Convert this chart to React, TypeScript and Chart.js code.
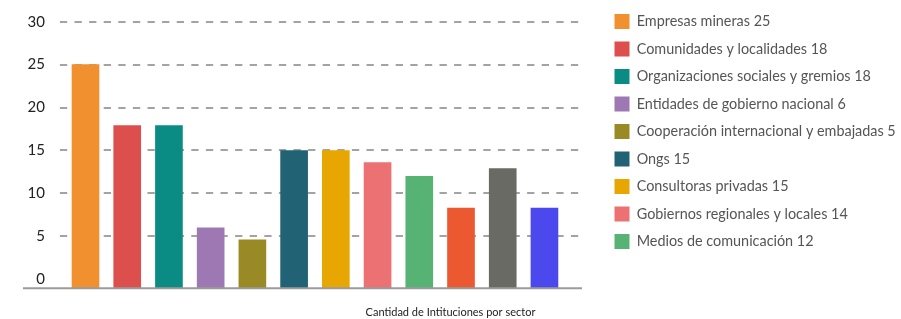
import React, { useEffect, useRef } from 'react';
import { Chart, registerables } from 'chart.js';

Chart.register(...registerables);

// ---- data ----
const categories = [
  'Empresas mineras',
  'Comunidades y localidades',
  'Organizaciones sociales y gremios',
  'Entidades de gobierno nacional',
  'Cooperación internacional y embajadas',
  'Ongs',
  'Consultoras privadas',
  'Gobiernos regionales y locales',
  'Medios de comunicación',
  'Sector 10',
  'Sector 11',
  'Sector 12',
];
const barValues = [25, 17.9, 17.9, 6, 4.6, 15, 15, 13.6, 12, 8.3, 12.9, 8.3];
const legendCount = 9;
const legendValues = [25, 18, 18, 6, 5, 15, 15, 14, 12];
const yTicks = [0, 5, 10, 15, 20, 25, 30];
const xTitle = 'Cantidad de Intituciones por sector';

// ---- styles ----
const barColors = [
  '#F0902F', '#DD4F4C', '#0A8C84', '#9E78B2', '#9A8A26', '#216274',
  '#E8A602', '#EC7173', '#57B374', '#EC5830', '#6A6A64', '#4B48EE',
];
const FONT = 'Lato, "Open Sans", sans-serif';

const baselinePlugin = {
  id: 'baseline',
  afterDatasetsDraw(chart: any) {
    const { ctx, chartArea, scales } = chart;
    const y = scales.y.getPixelForValue(scales.y.min);
    ctx.save();
    ctx.strokeStyle = '#9b9b9b';
    ctx.lineWidth = 2;
    ctx.beginPath();
    ctx.moveTo(chartArea.left - 31, y);
    ctx.lineTo(chartArea.right, y);
    ctx.stroke();
    ctx.restore();
  },
};

export default function App() {
  const ref = useRef<HTMLCanvasElement | null>(null);

  useEffect(() => {
    if (!ref.current) return;
    const chart = new Chart(ref.current, {
      type: 'bar',
      data: {
        datasets: [
          {
            label: 'Instituciones',
            data: barValues.map((v, i) => ({ x: i, y: v })),
            backgroundColor: barColors,
            borderWidth: 0,
            barThickness: 27,
            base: -1.05,
          } as any,
        ],
      },
      options: {
        animation: false,
        responsive: false,
        layout: { padding: { top: 1.5, left: 0, right: 0, bottom: 0 } },
        scales: {
          x: {
            type: 'linear',
            min: -0.755,
            max: 11.9,
            display: false,
            offset: false,
            grid: { display: false },
          },
          y: {
            type: 'linear',
            min: -1.05,
            max: 32.35,
            afterBuildTicks: (s: any) => {
              s.ticks = yTicks.map((v) => ({ value: v }));
            },
            afterFit: (s: any) => {
              s.width = 54;
              s.paddingTop = 0;
              s.paddingBottom = 0;
            },
            ticks: {
              color: '#222',
              font: { family: FONT, size: 15 },
              padding: 9,
            },
            grid: {
              drawTicks: false,
              color: (c: any) => (c.tick && c.tick.value === 0 ? 'rgba(0,0,0,0)' : '#a3a3a3'),
              lineWidth: 2,
            },
            border: { display: false, dash: [7.3, 7.3], dashOffset: 8.7 },
          },
          y2: {
            type: 'linear',
            position: 'right',
            display: true,
            grid: { display: false, drawTicks: false },
            border: { display: false },
            ticks: { display: false },
            afterFit: (s: any) => {
              s.width = 20;
              s.paddingTop = 0;
              s.paddingBottom = 0;
            },
          },
        },
        plugins: {
          tooltip: { enabled: false },
          legend: {
            position: 'right',
            align: 'start',
            maxWidth: 299,
            onClick: () => {},
            labels: {
              boxWidth: 15,
              boxHeight: 15,
              padding: 12.5,
              color: '#555',
              font: { family: FONT, size: 14.4 },
              generateLabels: () =>
                categories.slice(0, legendCount).map((name, i) => ({
                  text: `${name} ${legendValues[i]}`,
                  fillStyle: barColors[i],
                  strokeStyle: barColors[i],
                  lineWidth: 0,
                  hidden: false,
                  index: i,
                  datasetIndex: 0,
                  fontColor: '#555',
                })),
            },
          },
          title: {
            display: true,
            position: 'bottom',
            text: xTitle,
            color: '#222',
            font: { family: FONT, size: 11, weight: 'normal' },
            padding: { top: 17.5, bottom: 0 },
          },
        },
      } as any,
      plugins: [baselinePlugin],
    });
    return () => chart.destroy();
  }, []);

  return (
    <div style={{ position: 'absolute', left: 0, top: 0, width: 901, height: 319 }}>
      <canvas ref={ref} width={901} height={319} style={{ display: 'block' }} />
    </div>
  );
}
